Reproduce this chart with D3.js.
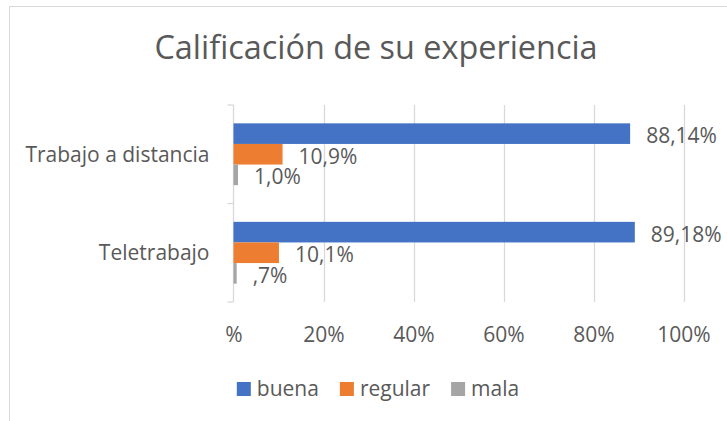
<!DOCTYPE html>
<html>
<head>
<meta charset="utf-8">
<script src="https://cdn.jsdelivr.net/npm/d3@7"></script>
<style>
  body { margin: 0; background: #fff; }
  svg text { font-family: "Open Sans", sans-serif; fill: #595959; }
</style>
</head>
<body>
<svg id="chart" width="727" height="421"></svg>
<script>
// Chart values
const categories = ["Trabajo a distancia", "Teletrabajo"];
const series_names = ["buena", "regular", "mala"];
const series_colors = ["#4472C4", "#ED7D31", "#A5A5A5"];
const buena_values = [88.14, 89.18];
const regular_values = [10.9, 10.1];
const mala_values = [1.0, 0.7];
const buena_labels = ["88,14%", "89,18%"];
const regular_labels = ["10,9%", "10,1%"];
const mala_labels = ["1,0%", ",7%"];
const tick_values = [0, 20, 40, 60, 80, 100];
const tick_labels = ["%", "20%", "40%", "60%", "80%", "100%"];

// Build a flat list of bars from the named arrays
const series_values = [buena_values, regular_values, mala_values];
const series_labels = [buena_labels, regular_labels, mala_labels];
const bars = [];
categories.forEach((cat, i) => {
    series_names.forEach((s, j) => {
        bars.push({ category: cat, series: s, value: series_values[j][i], label: series_labels[j][i], color: series_colors[j] });
    });
});

const svg = d3.select("#chart");

// Chart area border
svg.append("rect")
    .attr("x", 9.5).attr("y", 6.5)
    .attr("width", 760).attr("height", 440)
    .attr("fill", "none")
    .attr("stroke", "#d9d9d9");

// Title
svg.append("text")
    .attr("x", 376).attr("y", 59)
    .attr("text-anchor", "middle")
    .style("font-size", "32.4px")
    .text("Calificación de su experiencia");

// Scales
const x_scale = d3.scaleLinear().domain([0, 100]).range([233.5, 683.5]);
const y_scale = d3.scaleBand().domain(categories).range([105, 302]);
const y_inner = d3.scaleBand().domain(series_names).range([0, y_scale.bandwidth()]).paddingOuter(0.89);

// Vertical gridlines
svg.append("g")
    .selectAll("line")
    .data(tick_values.slice(1))
    .join("line")
    .attr("x1", d => Math.round(x_scale(d)) + 0.5)
    .attr("x2", d => Math.round(x_scale(d)) + 0.5)
    .attr("y1", y_scale.range()[0])
    .attr("y2", y_scale.range()[1])
    .attr("stroke", "#d9d9d9")
    .attr("stroke-width", 1.3);

// X axis labels (no axis line)
const x_axis = svg.append("g")
    .attr("transform", "translate(0, 320)")
    .call(d3.axisBottom(x_scale).tickValues(tick_values).tickFormat((d, i) => tick_labels[i]).tickSize(0).tickPadding(0));
x_axis.select(".domain").remove();
x_axis.selectAll("text")
    .attr("dy", null)
    .attr("y", 21.7)
    .style("font-size", "21px")
    .style("font-family", "'Open Sans', sans-serif")
    .attr("fill", "#595959");

// Y axis with category ticks on boundaries
const y_axis_g = svg.append("g").attr("transform", `translate(${x_scale(0)}, 0)`);
y_axis_g.append("line")
    .attr("y1", y_scale.range()[0]).attr("y2", y_scale.range()[1])
    .attr("stroke", "#d9d9d9").attr("stroke-width", 1.3);
const boundaries = categories.map(c => y_scale(c)).concat([y_scale.range()[1]]);
y_axis_g.selectAll("line.tick")
    .data(boundaries)
    .join("line")
    .attr("class", "tick")
    .attr("x1", -6).attr("x2", 0)
    .attr("y1", d => d).attr("y2", d => d)
    .attr("stroke", "#d9d9d9").attr("stroke-width", 1.3);
y_axis_g.selectAll("text")
    .data(categories)
    .join("text")
    .attr("x", -24)
    .attr("y", d => y_scale(d) + y_scale.bandwidth() / 2)
    .attr("dy", "0.36em")
    .attr("text-anchor", "end")
    .style("font-size", "21px")
    .text(d => d);

// Bars
svg.append("g")
    .selectAll("rect")
    .data(bars)
    .join("rect")
    .attr("x", x_scale(0))
    .attr("y", d => y_scale(d.category) + y_inner(d.series))
    .attr("width", d => x_scale(d.value) - x_scale(0))
    .attr("height", y_inner.bandwidth())
    .attr("fill", d => d.color);

// Data labels
svg.append("g")
    .selectAll("text")
    .data(bars)
    .join("text")
    .attr("x", d => x_scale(d.value) + 16)
    .attr("y", d => y_scale(d.category) + y_inner(d.series) + y_inner.bandwidth() / 2 + 2)
    .attr("dy", "0.36em")
    .style("font-size", "21px")
    .text(d => d.label);

// Legend
const legend = svg.append("g");
const legend_items = legend.selectAll("g")
    .data(series_names)
    .join("g");
legend_items.append("rect")
    .attr("width", 14).attr("height", 14)
    .attr("y", 382)
    .attr("fill", (d, i) => series_colors[i]);
legend_items.append("text")
    .attr("x", 20)
    .attr("y", 395.5)
    .style("font-size", "21px")
    .text(d => d);
let cursor = 0;
const offsets = [];
legend_items.each(function () {
    offsets.push(cursor);
    cursor += 20 + d3.select(this).select("text").node().getComputedTextLength() + 21;
});
const legend_width = cursor - 21;
const legend_start = 378 - legend_width / 2;
legend_items.attr("transform", (d, i) => `translate(${legend_start + offsets[i]}, 0)`);
</script>
</body>
</html>
